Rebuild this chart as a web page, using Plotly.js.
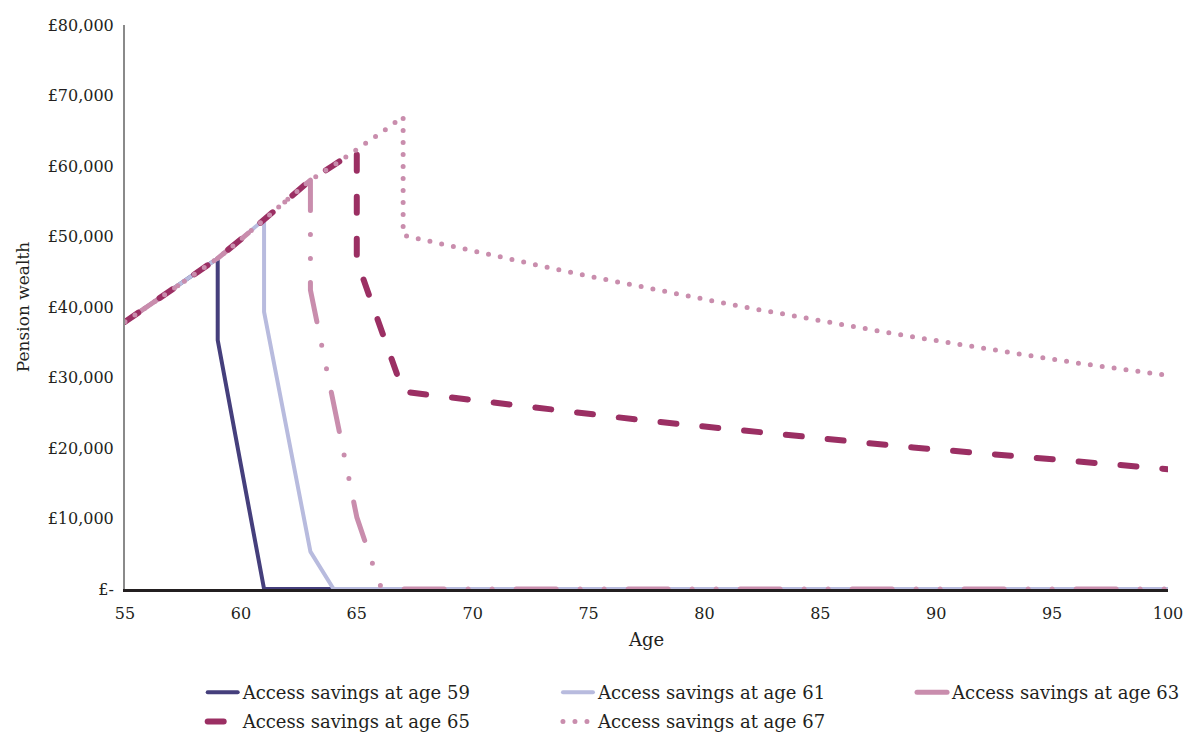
<!DOCTYPE html>
<html>
<head>
<meta charset="utf-8">
<script src="https://cdn.plot.ly/plotly-3.0.1.min.js"></script>
<style>
  html, body { margin: 0; padding: 0; background: #fff; }
  #chart { width: 1189px; height: 737px; }
  path.js-line { stroke-linecap: round; stroke-linejoin: round; }
</style>
</head>
<body>
<div id="chart"></div>
<script>
// Shared accumulation path before savings are accessed
const growthAges   = [55, 56, 57, 58, 59, 60, 61, 62, 63, 64, 65, 66, 67];
const growthValues = [37900, 40200, 42500, 44700, 46900, 49600, 52400, 55200, 58000, 60100, 62300, 64600, 67000];

// Paths after access
const access59Ages   = [59, 60, 61, 100];
const access59Values = [35300, 17600, 0, 0];

const access61Ages   = [61, 62, 63, 64, 100];
const access61Values = [39300, 22300, 5300, 0, 0];

const access63Ages   = [63, 64, 65, 66, 67, 100];
const access63Values = [42400, 26400, 10200, 500, 0, 0];

const access65Ages   = [65, 66, 67, 68, 69, 70, 71, 72, 73, 74, 75, 76, 77, 78, 79, 80, 81, 82, 83, 84, 85, 86, 87, 88, 89, 90, 91, 92, 93, 94, 95, 96, 97, 98, 99, 100];
const access65Values = [46600, 37300, 28000, 27580, 27170, 26760, 26360, 25960, 25570, 25190, 24810, 24440, 24070, 23710, 23360, 23010, 22660, 22320, 21990, 21660, 21330, 21010, 20700, 20390, 20080, 19780, 19490, 19190, 18910, 18620, 18340, 18070, 17800, 17530, 17270, 17000];

const access67Ages   = [67, 68, 69, 70, 71, 72, 73, 74, 75, 76, 77, 78, 79, 80, 81, 82, 83, 84, 85, 86, 87, 88, 89, 90, 91, 92, 93, 94, 95, 96, 97, 98, 99, 100];
const access67Values = [50200, 49430, 48680, 47930, 47200, 46480, 45770, 45070, 44380, 43700, 43030, 42370, 41720, 41080, 40450, 39830, 39220, 38620, 38030, 37450, 36880, 36310, 35760, 35210, 34670, 34140, 33620, 33110, 32600, 32100, 31610, 31130, 30650, 30300];

const seriesNames = ['Access savings at age 59', 'Access savings at age 61', 'Access savings at age 63', 'Access savings at age 65', 'Access savings at age 67'];
const accessAgesList = [59, 61, 63, 65, 67];
const legendIds = ['legend', 'legend2', 'legend3', 'legend4', 'legend5'];

const yTickVals = [0, 10000, 20000, 30000, 40000, 50000, 60000, 70000, 80000];
const yTickText = ['£-', '£10,000', '£20,000', '£30,000', '£40,000', '£50,000', '£60,000', '£70,000', '£80,000'];
const xTickVals = [55, 60, 65, 70, 75, 80, 85, 90, 95, 100];

const postAges = [access59Ages, access61Ages, access63Ages, access65Ages, access67Ages];
const postValues = [access59Values, access61Values, access63Values, access65Values, access67Values];

const styles = [
  {color: '#453f7c', width: 4, dash: 'solid'},
  {color: '#b8bbde', width: 4, dash: 'solid'},
  {color: '#c98dad', width: 5, dash: '40px,24px,0px,24px,0px,24px'},
  {color: '#9b2f63', width: 6, dash: '16px,26px'},
  {color: '#c98dad', width: 5, dash: '0px,12px'}
];

const traces = seriesNames.map((name, i) => {
  const acc = accessAgesList[i];
  const xs = [], ys = [];
  growthAges.forEach((a, k) => { if (a <= acc) { xs.push(a); ys.push(growthValues[k]); } });
  postAges[i].forEach((a, k) => { xs.push(a); ys.push(postValues[i][k]); });
  return {
    type: 'scatter', mode: 'lines', name: name, x: xs, y: ys,
    line: styles[i], hoverinfo: 'skip', legend: legendIds[i]
  };
});

const fontFam = '"DejaVu Serif", serif';
const legendBase = {
  orientation: 'h', xanchor: 'left', yanchor: 'top',
  font: {family: fontFam, size: 18, color: '#231f20'},
  bgcolor: 'rgba(0,0,0,0)'
};
const colX = [0.0745, 0.4151, 0.7546];
const rowY = [-0.151, -0.2025];
const layout = {
  width: 1189, height: 737,
  margin: {l: 125, r: 21, t: 25, b: 148, autoexpand: false},
  paper_bgcolor: '#ffffff', plot_bgcolor: '#ffffff',
  font: {family: fontFam, color: '#231f20', size: 16},
  showlegend: true,
  legend:  Object.assign({}, legendBase, {x: colX[0], y: rowY[0]}),
  legend2: Object.assign({}, legendBase, {x: colX[1], y: rowY[0]}),
  legend3: Object.assign({}, legendBase, {x: colX[2], y: rowY[0]}),
  legend4: Object.assign({}, legendBase, {x: colX[0], y: rowY[1]}),
  legend5: Object.assign({}, legendBase, {x: colX[1], y: rowY[1]}),
  xaxis: {
    range: [55, 100], tickvals: xTickVals, ticks: '', showgrid: false, zeroline: false,
    showline: true, linecolor: '#231f20', linewidth: 3,
    tickfont: {family: fontFam, size: 16, color: '#231f20'},
    ticklabelstandoff: 8,
    title: {text: 'Age', font: {family: fontFam, size: 18, color: '#231f20'}, standoff: 12},
    fixedrange: true
  },
  yaxis: {
    range: [0, 80000], tickvals: yTickVals, ticktext: yTickText, ticks: '', showgrid: false, zeroline: false,
    showline: true, linecolor: '#8a8a8a', linewidth: 2,
    tickfont: {family: fontFam, size: 16, color: '#231f20'},
    ticklabelstandoff: 6,
    title: {text: 'Pension wealth', font: {family: fontFam, size: 17, color: '#231f20'}, standoff: 14},
    fixedrange: true
  }
};

Plotly.newPlot('chart', traces, layout, {displayModeBar: false, staticPlot: true});
</script>
</body>
</html>
